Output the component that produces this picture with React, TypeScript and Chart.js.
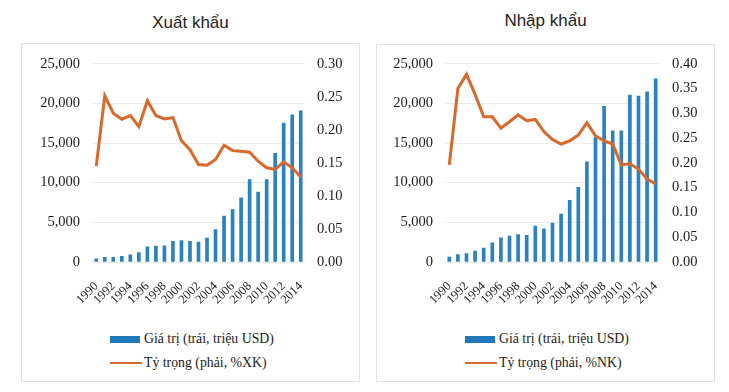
import React, { useEffect, useRef } from 'react';
import { Chart, registerables } from 'chart.js';

Chart.register(...registerables);

const years = ['1990', '1991', '1992', '1993', '1994', '1995', '1996', '1997', '1998', '1999', '2000', '2001', '2002', '2003', '2004', '2005', '2006', '2007', '2008', '2009', '2010', '2011', '2012', '2013', '2014'];

const exportValues = [400, 600, 600, 700, 900, 1200, 1900, 2000, 2050, 2600, 2700, 2600, 2500, 3000, 4100, 5800, 6600, 8100, 10400, 8800, 10400, 13700, 17500, 18550, 19050];
const exportShare = [0.145, 0.2515, 0.225, 0.216, 0.2215, 0.205, 0.244, 0.2215, 0.2165, 0.2185, 0.1835, 0.17, 0.1475, 0.1465, 0.155, 0.1765, 0.1685, 0.1675, 0.166, 0.1525, 0.1425, 0.14, 0.1515, 0.1425, 0.1285];

const importValues = [630, 920, 1050, 1380, 1760, 2430, 3050, 3260, 3470, 3350, 4520, 4180, 4900, 6030, 7780, 9410, 12640, 15700, 19630, 16530, 16530, 21050, 20920, 21460, 23100];
const importShare = [0.196, 0.35, 0.3785, 0.338, 0.293, 0.293, 0.27, 0.283, 0.297, 0.285, 0.2875, 0.263, 0.247, 0.238, 0.2445, 0.256, 0.281, 0.2545, 0.2445, 0.238, 0.196, 0.198, 0.1875, 0.1675, 0.1575];

const leftAxisTicks = [0, 5000, 10000, 15000, 20000, 25000];
const exportShareMax = 0.3;
const importShareMax = 0.4;

const barLabel = 'Giá trị (trái, triệu USD)';
const exportLineLabel = 'Tỷ trọng (phải, %XK)';
const importLineLabel = 'Tỷ trọng (phải, %NK)';

const BLUE = '#2b82c0';
const LEGEND_BLUE = '#1f78b8';
const ORANGE = '#d9692a';
const SERIF = "'Liberation Serif', 'DejaVu Serif', 'Times New Roman', serif";
const SANS = "'Liberation Sans', Arial, sans-serif";
const TEXT = '#1c1c1c';

type PanelProps = {
  left: number;
  top: number;
  values: number[];
  share: number[];
  shareMax: number;
  lineLabel: string;
  yWidth: number;
};

function ChartCanvas({ left, top, values, share, shareMax, lineLabel, yWidth }: PanelProps) {
  const ref = useRef<HTMLCanvasElement>(null);
  useEffect(() => {
    if (!ref.current) return;
    const chart = new Chart(ref.current, {
      type: 'bar',
      data: {
        labels: years,
        datasets: [
          {
            type: 'line',
            label: lineLabel,
            data: share,
            borderColor: ORANGE,
            backgroundColor: ORANGE,
            borderWidth: 3,
            pointRadius: 0,
            tension: 0,
            yAxisID: 'y1',
            order: 0,
          } as any,
          {
            type: 'bar',
            label: barLabel,
            data: values,
            backgroundColor: BLUE,
            barThickness: 3,
            yAxisID: 'y',
            order: 1,
          },
        ],
      },
      options: {
        animation: false,
        responsive: false,
        maintainAspectRatio: false,
        layout: { padding: { top: 19, left: 0, right: 0, bottom: 0 } },
        plugins: { legend: { display: false }, tooltip: { enabled: false } },
        scales: {
          x: {
            grid: { display: false, drawTicks: false },
            border: { display: false },
            ticks: {
              autoSkip: false,
              minRotation: 45,
              maxRotation: 45,
              padding: 17,
              color: TEXT,
              font: { family: SERIF, size: 12.5 },
              callback: (_v: any, i: number) => (i % 2 === 0 ? years[i] : ''),
            },
            afterFit: (s: any) => {
              s.height = 53;
            },
          },
          y: {
            position: 'left',
            min: leftAxisTicks[0],
            max: leftAxisTicks[leftAxisTicks.length - 1],
            grid: { color: '#ebebeb', drawTicks: false },
            border: { display: false },
            ticks: {
              stepSize: 5000,
              padding: 12,
              color: TEXT,
              font: { family: SERIF, size: 14.5 },
              callback: (v: any) => Number(v).toLocaleString('en-US'),
            },
            afterFit: (s: any) => {
              s.width = yWidth;
            },
          },
          y1: {
            position: 'right',
            min: 0,
            max: shareMax,
            grid: { display: false, drawTicks: false },
            border: { display: false },
            ticks: {
              stepSize: 0.05,
              padding: 12,
              color: TEXT,
              font: { family: SERIF, size: 14.5 },
              callback: (v: any) => Number(v).toFixed(2),
            },
            afterFit: (s: any) => {
              s.width = 55;
            },
          },
        },
      },
    });
    return () => chart.destroy();
  }, [values, share, shareMax, lineLabel, yWidth]);
  return (
    <canvas
      ref={ref}
      width={339}
      height={272}
      style={{ position: 'absolute', left, top, width: 339, height: 272, display: 'block' }}
    />
  );
}

function Panel(props: PanelProps & { title: string; titleTop: number; boxTop: number }) {
  const { left, title, titleTop, boxTop, lineLabel } = props;
  return (
    <>
      <div
        style={{
          position: 'absolute',
          left,
          top: titleTop,
          width: 339,
          textAlign: 'center',
          fontFamily: SANS,
          fontSize: 17,
          lineHeight: '20px',
          color: '#222',
        }}
      >
        {title}
      </div>
      <div
        style={{
          position: 'absolute',
          left,
          top: boxTop,
          width: 339,
          height: 382 - boxTop,
          boxSizing: 'border-box',
          border: '1px solid #e2e2e2',
          background: '#fff',
        }}
      />
      <ChartCanvas {...props} top={43} />
      <div
        style={{
          position: 'absolute',
          left: left + 89,
          top: 330,
          fontFamily: SERIF,
          fontSize: 13.8,
          color: TEXT,
          lineHeight: '18px',
          whiteSpace: 'nowrap',
        }}
      >
        <div style={{ display: 'flex', alignItems: 'center', height: 18 }}>
          <span style={{ display: 'inline-block', width: 30, height: 7, background: LEGEND_BLUE, marginRight: 4 }} />
          <span>{barLabel}</span>
        </div>
        <div style={{ display: 'flex', alignItems: 'center', height: 18, marginTop: 6 }}>
          <span style={{ display: 'inline-block', width: 32, height: 2, background: ORANGE, marginRight: 2 }} />
          <span>{lineLabel}</span>
        </div>
      </div>
    </>
  );
}

export default function App() {
  return (
    <div style={{ position: 'fixed', left: 0, top: 0, width: 729, height: 392, background: '#fff', overflow: 'hidden' }}>
      <Panel
        left={21}
        top={43}
        title="Xuất khẩu"
        titleTop={13}
        boxTop={43}
        values={exportValues}
        share={exportShare}
        shareMax={exportShareMax}
        lineLabel={exportLineLabel}
        yWidth={71}
      />
      <Panel
        left={376}
        top={43}
        title="Nhập khẩu"
        titleTop={11}
        boxTop={44}
        values={importValues}
        share={importShare}
        shareMax={importShareMax}
        lineLabel={importLineLabel}
        yWidth={69}
      />
    </div>
  );
}
